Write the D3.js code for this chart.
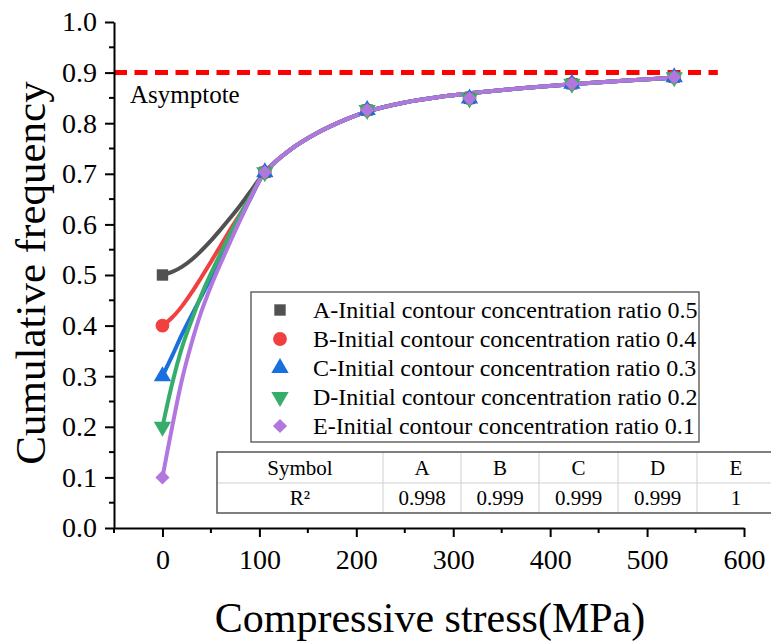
<!DOCTYPE html>
<html>
<head>
<meta charset="utf-8">
<script src="https://cdn.jsdelivr.net/npm/d3@7"></script>
<style>
  body { margin: 0; background: #fff; }
  svg, svg text { font-family: "Liberation Serif", "Times New Roman", serif; }
</style>
</head>
<body>
<svg width="771" height="642"></svg>
<script>
// measured points
const stressX = [0, 105.6, 211.2, 316.8, 422.4, 528];
const seriesNames = ["A", "B", "C", "D", "E"];
const startValues = [0.5, 0.4, 0.3, 0.2, 0.1];
const commonValues = [0.703, 0.826, 0.849, 0.878, 0.891];
const legendLabels = [
  "A-Initial contour concentration ratio 0.5",
  "B-Initial contour concentration ratio 0.4",
  "C-Initial contour concentration ratio 0.3",
  "D-Initial contour concentration ratio 0.2",
  "E-Initial contour concentration ratio 0.1"
];
const r2Values = ["0.998", "0.999", "0.999", "0.999", "1"];

// fitted curves
const fitHeadX = [0, 10, 20, 30, 40, 50, 60, 70, 80, 90];
const fitHeadA = [0.5, 0.506, 0.516, 0.53, 0.548, 0.568, 0.59, 0.613, 0.637, 0.663];
const fitHeadB = [0.4, 0.416, 0.438, 0.465, 0.495, 0.526, 0.558, 0.59, 0.62, 0.65];
const fitHeadC = [0.3, 0.34, 0.382, 0.42, 0.457, 0.495, 0.533, 0.572, 0.61, 0.648];
const fitHeadD = [0.2, 0.285, 0.356, 0.41, 0.46, 0.503, 0.543, 0.582, 0.618, 0.652];
const fitHeadE = [0.1, 0.2, 0.292, 0.365, 0.427, 0.478, 0.523, 0.566, 0.608, 0.648];
const fitTailX = [105.6, 130, 160, 190, 211.2, 250, 290, 316.8, 370, 422.4, 475, 528];
const fitTailY = [0.703, 0.745, 0.781, 0.808, 0.823, 0.841, 0.853, 0.859, 0.869, 0.877, 0.884, 0.890];
const fitHeads = [fitHeadA, fitHeadB, fitHeadC, fitHeadD, fitHeadE];

const asymptote = 0.9;
const xTicks = [0, 100, 200, 300, 400, 500, 600];
const yTicks = [0, 0.1, 0.2, 0.3, 0.4, 0.5, 0.6, 0.7, 0.8, 0.9, 1.0];

const serif = "'Liberation Serif', 'Times New Roman', serif";
const colors = ["#515151", "#f14040", "#1a6fdf", "#37ad6b", "#b177de"];
const symbols = [d3.symbolSquare, d3.symbolCircle, d3.symbolTriangle, d3.symbolTriangle, d3.symbolSquare];
const symbolSizes = [130, 150, 130, 130, 100];
const symbolRot = [0, 0, 0, 180, 45];

const svg = d3.select("svg");
const x = d3.scaleLinear().domain([-50, 600]).range([114, 744]);
const y = d3.scaleLinear().domain([0, 1]).range([528, 22]);

// asymptote
svg.append("line")
  .attr("x1", x(-50)).attr("x2", x(573))
  .attr("y1", y(asymptote)).attr("y2", y(asymptote))
  .attr("stroke", "#ff0000").attr("stroke-width", 5)
  .attr("stroke-dasharray", "13 7.5");
svg.append("text")
  .attr("x", 130).attr("y", 103)
  .attr("font-family", serif)
  .style("font-size", "25px").text("Asymptote");

// fit curves
const line = d3.line().x(d => x(d[0])).y(d => y(d[1])).curve(d3.curveCatmullRom);
fitHeads.forEach((head, i) => {
  const pts = fitHeadX.map((v, j) => [v, head[j]])
    .concat(fitTailX.map((v, j) => [v, fitTailY[j]]));
  svg.append("path").datum(pts)
    .attr("fill", "none")
    .attr("stroke", colors[i])
    .attr("stroke-width", 4)
    .attr("stroke-linecap", "round")
    .attr("d", line);
});

// markers
seriesNames.forEach((name, i) => {
  const vals = [startValues[i]].concat(commonValues);
  svg.append("g").selectAll("path")
    .data(stressX.map((v, j) => [v, vals[j]]))
    .join("path")
    .attr("transform", d => `translate(${x(d[0])},${y(d[1])}) rotate(${symbolRot[i]})`)
    .attr("d", d3.symbol().type(symbols[i]).size(symbolSizes[i]))
    .attr("fill", colors[i]);
});

// axes
const xAxis = svg.append("g")
  .attr("transform", `translate(0,${y(0)})`)
  .call(d3.axisBottom(x).tickValues(xTicks).tickFormat(d3.format("d")).tickSize(9).tickSizeOuter(0).tickPadding(12));
xAxis.append("g").selectAll("line")
  .data(d3.range(-50, 600, 100))
  .join("line")
  .attr("x1", d => x(d)).attr("x2", d => x(d))
  .attr("y1", 0).attr("y2", 5)
  .attr("stroke", "#000").attr("stroke-width", 2);

const yAxis = svg.append("g")
  .attr("transform", `translate(${x(-50)},0)`)
  .call(d3.axisLeft(y).tickValues(yTicks).tickFormat(d3.format(".1f")).tickSize(9).tickSizeOuter(0).tickPadding(8));
yAxis.append("g").selectAll("line")
  .data(d3.range(0.05, 1, 0.1))
  .join("line")
  .attr("y1", d => y(d)).attr("y2", d => y(d))
  .attr("x1", 0).attr("x2", -5)
  .attr("stroke", "#000").attr("stroke-width", 2);

[xAxis, yAxis].forEach(a => a.attr("font-family", serif).attr("font-size", 28));
svg.selectAll(".domain").attr("stroke", "#000").attr("stroke-width", 2);
svg.selectAll(".tick line").attr("stroke", "#000").attr("stroke-width", 2);
svg.selectAll(".tick text").attr("fill", "#000");

// axis titles
svg.append("text")
  .attr("x", 430).attr("y", 632)
  .attr("text-anchor", "middle")
  .attr("font-family", serif)
  .style("font-size", "42px")
  .text("Compressive stress(MPa)");
svg.append("text")
  .attr("transform", "translate(45,273) rotate(-90)")
  .attr("text-anchor", "middle")
  .attr("font-family", serif)
  .style("font-size", "43px")
  .text("Cumulative frequency");

// legend
const legend = svg.append("g").attr("font-family", serif);
legend.append("rect")
  .attr("x", 251).attr("y", 292).attr("width", 448).attr("height", 150)
  .attr("fill", "#fff").attr("stroke", "#666").attr("stroke-width", 1.5);
legendLabels.forEach((label, i) => {
  const cy = 310 + i * 29;
  legend.append("path")
    .attr("transform", `translate(280,${cy}) rotate(${symbolRot[i]})`)
    .attr("d", d3.symbol().type(symbols[i]).size(symbolSizes[i]))
    .attr("fill", colors[i]);
  legend.append("text")
    .attr("x", 313).attr("y", cy)
    .attr("dy", "0.35em")
    .style("font-size", "24px")
    .text(label);
});

// R² table
const colEdges = [217, 383, 461, 539, 618, 697, 775];
const rowEdges = [452, 483, 513];
const table = svg.append("g").attr("font-family", serif);
table.append("rect")
  .attr("x", colEdges[0]).attr("y", rowEdges[0])
  .attr("width", colEdges[6] - colEdges[0]).attr("height", rowEdges[2] - rowEdges[0])
  .attr("fill", "#fff");
colEdges.slice(1, 6).forEach(cx => {
  table.append("line")
    .attr("x1", cx).attr("x2", cx).attr("y1", rowEdges[0]).attr("y2", rowEdges[2])
    .attr("stroke", "#d0d0d0").attr("stroke-width", 1);
});
table.append("line")
  .attr("x1", colEdges[0]).attr("x2", colEdges[6]).attr("y1", rowEdges[1]).attr("y2", rowEdges[1])
  .attr("stroke", "#d0d0d0").attr("stroke-width", 1);
table.append("path")
  .attr("d", `M${colEdges[6]},${rowEdges[0]}H${colEdges[0]}V${rowEdges[2]}H${colEdges[6]}`)
  .attr("fill", "none").attr("stroke", "#555").attr("stroke-width", 1.5);
const rows = [["Symbol"].concat(seriesNames), ["R²"].concat(r2Values)];
rows.forEach((row, r) => {
  row.forEach((cell, c) => {
    table.append("text")
      .attr("x", (colEdges[c] + colEdges[c + 1]) / 2)
      .attr("y", (rowEdges[r] + rowEdges[r + 1]) / 2)
      .attr("dy", "0.35em")
      .attr("text-anchor", "middle")
      .style("font-size", "21px")
      .text(cell);
  });
});
</script>
</body>
</html>
